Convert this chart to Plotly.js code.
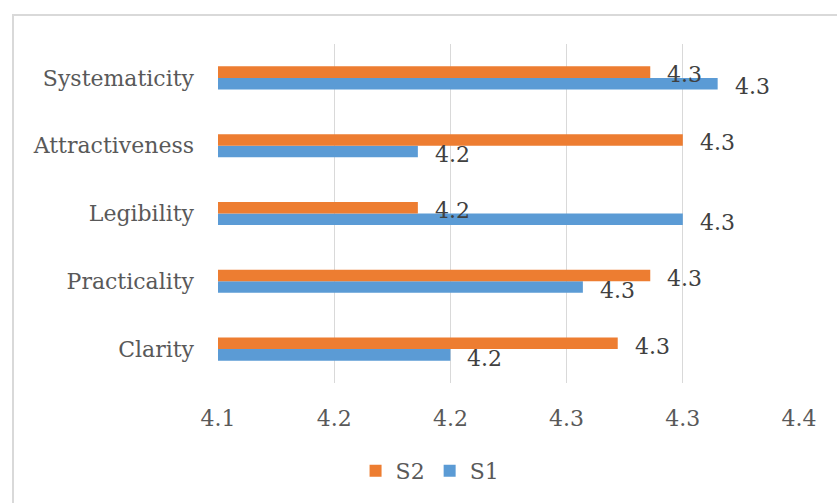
<!DOCTYPE html>
<html>
<head>
<meta charset="utf-8">
<script src="https://cdn.plot.ly/plotly-3.0.1.min.js"></script>
<style>
  html, body { margin: 0; padding: 0; background: #fff; }
  #wrap { position: relative; width: 837px; height: 503px; overflow: hidden; }
  #chart { position: absolute; left: 0; top: 0; width: 837px; height: 503px; }
  #frame { position: absolute; left: 12px; top: 14px; width: 900px; height: 600px;
           border-left: 2px solid #d9d9d9; border-top: 2px solid #d9d9d9; pointer-events: none; }
</style>
</head>
<body>
<div id="wrap">
  <div id="chart"></div>
  <div id="frame"></div>
</div>
<script>
// Categories listed bottom to top (Plotly category axis starts at the bottom)
const categories = ["Clarity", "Practicality", "Legibility", "Attractiveness", "Systematicity"];
const seriesNames = ["S1", "S2"];
const s1Values = [4.200, 4.257, 4.300, 4.186, 4.315];
const s2Values = [4.272, 4.286, 4.186, 4.300, 4.286];
const xTickValues = [4.10, 4.15, 4.20, 4.25, 4.30, 4.35];
const xTickLabels = ["4.1", "4.2", "4.2", "4.3", "4.3", "4.4"];
const xRange = [4.10, 4.35];

const FONT = "DejaVu Serif, Liberation Serif, serif";
const AXIS_GRAY = "#595959";
const LABEL_GRAY = "#404040";

const traces = [
  {
    type: "bar", orientation: "h", name: seriesNames[0],
    y: categories, x: s1Values,
    marker: { color: "#5B9BD5" },
    hoverinfo: "x+y"
  },
  {
    type: "bar", orientation: "h", name: seriesNames[1],
    y: categories, x: s2Values,
    marker: { color: "#ED7D31" },
    hoverinfo: "x+y"
  }
];

// Data labels placed from the values themselves
const annotations = [];
categories.forEach((c, i) => {
  annotations.push({
    x: s1Values[i], y: c, xref: "x", yref: "y",
    text: s1Values[i].toFixed(1), showarrow: false,
    xanchor: "left", yanchor: "middle", xshift: 15, yshift: -9,
    font: { family: FONT, size: 22, color: LABEL_GRAY }
  });
  annotations.push({
    x: s2Values[i], y: c, xref: "x", yref: "y",
    text: s2Values[i].toFixed(1), showarrow: false,
    xanchor: "left", yanchor: "middle", xshift: 15, yshift: 3,
    font: { family: FONT, size: 22, color: LABEL_GRAY }
  });
});

const layout = {
  width: 837, height: 503,
  margin: { l: 218, r: 38, t: 44, b: 119, pad: 0 },
  paper_bgcolor: "#ffffff",
  plot_bgcolor: "#ffffff",
  barmode: "group",
  bargap: 0.66,
  bargroupgap: 0,
  font: { family: FONT, size: 22, color: AXIS_GRAY },
  xaxis: {
    range: xRange,
    tickmode: "array", tickvals: xTickValues, ticktext: xTickLabels,
    showgrid: true, gridcolor: "#d9d9d9", gridwidth: 1,
    zeroline: false, showline: false, ticks: "",
    ticklabelstandoff: 20,
    tickfont: { family: FONT, size: 22, color: AXIS_GRAY },
    fixedrange: true
  },
  yaxis: {
    type: "category",
    showgrid: false, zeroline: false, showline: false, ticks: "",
    ticklabelstandoff: 23,
    tickfont: { family: FONT, size: 22, color: AXIS_GRAY },
    fixedrange: true
  },
  showlegend: true,
  legend: {
    orientation: "h", traceorder: "reversed",
    x: 0.365, xanchor: "center", y: -0.256, yanchor: "middle",
    font: { family: FONT, size: 22, color: AXIS_GRAY },
    itemwidth: 30
  },
  annotations: annotations
};

Plotly.newPlot("chart", traces, layout, { displayModeBar: false, staticPlot: true });
</script>
</body>
</html>
